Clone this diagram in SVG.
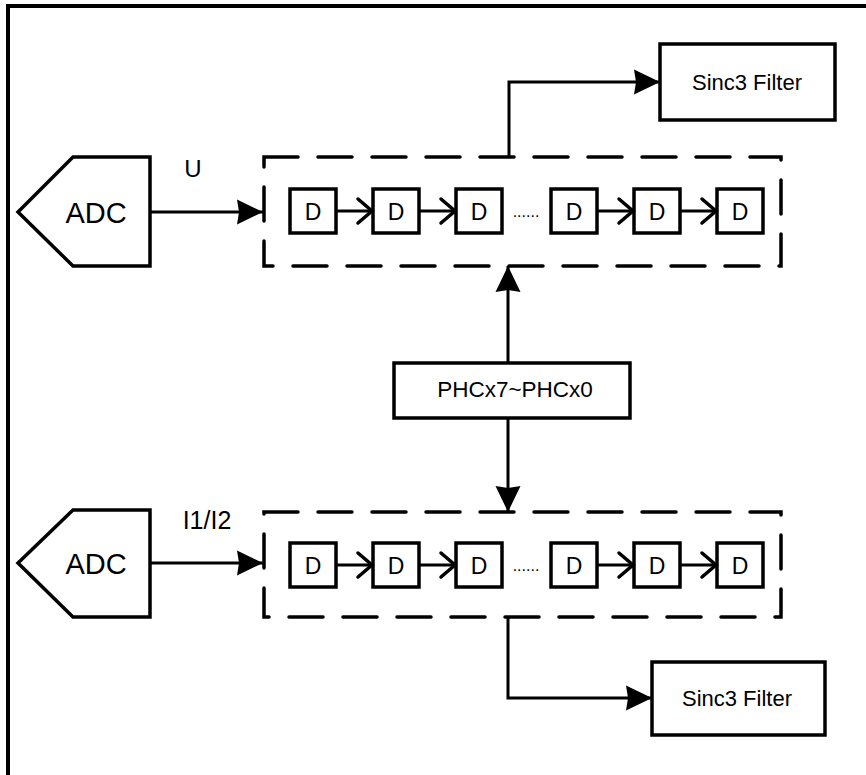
<svg xmlns="http://www.w3.org/2000/svg" width="866" height="775" viewBox="0 0 866 775">
<defs>
<style>
.s{fill:none;stroke:#000;stroke-width:3.5;stroke-linejoin:miter}
.dash{fill:none;stroke:#000;stroke-width:3.5;stroke-dasharray:34 20;stroke-linecap:round}
.w{fill:#fff;stroke:#000;stroke-width:3.5}
.t{font-family:"Liberation Sans",Arial,sans-serif;fill:#000;text-anchor:middle}
.ln{fill:none;stroke:#000;stroke-width:3}
</style>
<marker id="ah" markerWidth="26" markerHeight="26" refX="26" refY="13" orient="auto" markerUnits="userSpaceOnUse">
<path d="M0,0.5 L26,13 L0,25.5 L2,13 Z" fill="#000"/>
</marker>
<marker id="ch" markerWidth="20" markerHeight="30" refX="17" refY="15" orient="auto" markerUnits="userSpaceOnUse">
<path d="M3,3 L17,15 L3,27" fill="none" stroke="#000" stroke-width="3.5" stroke-linecap="round"/>
</marker>
</defs>
<rect width="866" height="775" fill="#fff"/>
<path d="M8,775 L8,6 L866,6" fill="none" stroke="#000" stroke-width="4"/>

<g id="adc-top">
<polygon class="s" points="18,212 73,157 150,157 150,266 73,266"/>
<text class="t" x="96" y="222.5" font-size="29">ADC</text>
</g>
<g id="adc-bottom">
<polygon class="s" points="18,563 73,510 150,510 150,617 73,617"/>
<text class="t" x="96" y="573.5" font-size="29">ADC</text>
</g>

<g id="label-u"><text class="t" x="193" y="177" font-size="24">U</text></g>
<g id="label-i"><text class="t" x="207" y="529" font-size="25">I1/I2</text></g>

<g id="chain-top">
<rect class="dash" x="264" y="157" width="517" height="109"/>
<rect class="w" x="290" y="189" width="46" height="44"/>
<rect class="w" x="373" y="189" width="46" height="44"/>
<rect class="w" x="456" y="189" width="46" height="44"/>
<rect class="w" x="551" y="189" width="46" height="44"/>
<rect class="w" x="634" y="189" width="46" height="44"/>
<rect class="w" x="717" y="189" width="46" height="44"/>
<g class="t" font-size="23">
<text x="313" y="219.5">D</text><text x="396" y="219.5">D</text><text x="479" y="219.5">D</text>
<text x="574" y="219.5">D</text><text x="657" y="219.5">D</text><text x="740" y="219.5">D</text>
</g>
<text class="t" x="526" y="217" font-size="16">......</text>
</g>

<g id="chain-bottom">
<rect class="dash" x="264" y="512" width="517" height="105"/>
<rect class="w" x="290" y="543" width="46" height="44"/>
<rect class="w" x="373" y="543" width="46" height="44"/>
<rect class="w" x="456" y="543" width="46" height="44"/>
<rect class="w" x="551" y="543" width="46" height="44"/>
<rect class="w" x="634" y="543" width="46" height="44"/>
<rect class="w" x="717" y="543" width="46" height="44"/>
<g class="t" font-size="23">
<text x="313" y="573.5">D</text><text x="396" y="573.5">D</text><text x="479" y="573.5">D</text>
<text x="574" y="573.5">D</text><text x="657" y="573.5">D</text><text x="740" y="573.5">D</text>
</g>
<text class="t" x="526" y="571" font-size="16">......</text>
</g>

<g id="sinc-top">
<rect class="w" x="660" y="44" width="175" height="76"/>
<text class="t" x="747" y="90" font-size="22">Sinc3 Filter</text>
</g>
<g id="sinc-bottom">
<rect class="w" x="652" y="662" width="173" height="73"/>
<text class="t" x="737" y="706" font-size="22">Sinc3 Filter</text>
</g>

<g id="phc">
<rect class="w" x="394" y="363" width="236" height="55"/>
<text class="t" x="515" y="397" font-size="22.5">PHCx7~PHCx0</text>
</g>

<g id="connectors">
<line class="ln" x1="150" y1="212" x2="263" y2="212" marker-end="url(#ah)"/>
<line class="ln" x1="150" y1="563" x2="263" y2="563" marker-end="url(#ah)"/>
<path class="ln" d="M509,157 L509,82 L660,82" marker-end="url(#ah)"/>
<path class="ln" d="M508,617 L508,698 L652,698" marker-end="url(#ah)"/>
<line class="ln" x1="508" y1="363" x2="508" y2="266" marker-end="url(#ah)"/>
<line class="ln" x1="508" y1="418" x2="508" y2="512" marker-end="url(#ah)"/>
<g>
<line class="ln" x1="336" y1="211" x2="372" y2="211" marker-end="url(#ch)"/>
<line class="ln" x1="419" y1="211" x2="455" y2="211" marker-end="url(#ch)"/>
<line class="ln" x1="597" y1="211" x2="633" y2="211" marker-end="url(#ch)"/>
<line class="ln" x1="680" y1="211" x2="716" y2="211" marker-end="url(#ch)"/>
<line class="ln" x1="336" y1="565" x2="372" y2="565" marker-end="url(#ch)"/>
<line class="ln" x1="419" y1="565" x2="455" y2="565" marker-end="url(#ch)"/>
<line class="ln" x1="597" y1="565" x2="633" y2="565" marker-end="url(#ch)"/>
<line class="ln" x1="680" y1="565" x2="716" y2="565" marker-end="url(#ch)"/>
</g>
</g>
</svg>
